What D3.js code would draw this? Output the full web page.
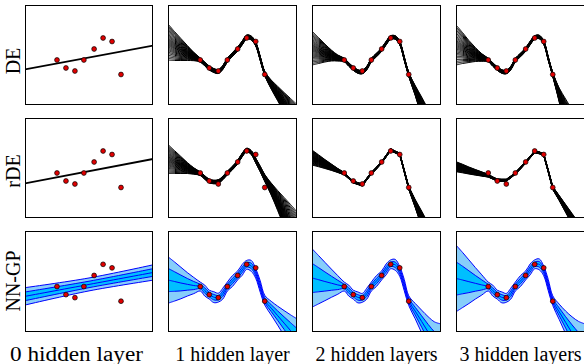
<!DOCTYPE html>
<html><head><meta charset="utf-8">
<script src="https://cdn.jsdelivr.net/npm/d3@7"></script>
<style>html,body{margin:0;padding:0;background:#fff;}svg{display:block}</style>
</head><body><svg id="c" width="584" height="364"></svg>
<script>
const ROW_LABELS = ["DE", "rDE", "NN-GP"];
const COL_LABELS = ["0 hidden layer", "1 hidden layer", "2 hidden layers", "3 hidden layers"];

// observed training points
const X_DATA = [0.25, 0.32, 0.39, 0.46, 0.54, 0.61, 0.68, 0.75];
const Y_DATA = [0.45, 0.37, 0.34, 0.45, 0.56, 0.67, 0.635, 0.305];

// x grids
const LIN = [0, 1];
const LIN3 = [0, 0.5, 1];
const GRID = [0, 0.05, 0.1, 0.15, 0.2, 0.25, 0.285, 0.32, 0.355, 0.39, 0.425, 0.46, 0.5, 0.54, 0.575, 0.61, 0.645, 0.68, 0.715, 0.75, 0.8, 0.85, 0.9, 0.95, 1];

// ensemble member offsets (in units of ensemble spread)
const MEMBERS = [-1, -0.91, -0.82, -0.73, -0.64, -0.56, -0.48, -0.41, -0.34, -0.27, -0.2, -0.14, -0.08, -0.02, 0.04, 0.1, 0.16, 0.22, 0.29, 0.36, 0.43, 0.51, 0.59, 0.67, 0.75, 0.83, 0.91, 1];

// DE
const DE0_MEAN = [0.357, 0.593];
const DE0_SPREAD = [0, 0];
const DE1_MEAN = [0.63, 0.59, 0.555, 0.52, 0.485, 0.45, 0.41, 0.37, 0.345, 0.335, 0.375, 0.45, 0.505, 0.56, 0.62, 0.68, 0.67, 0.61, 0.465, 0.315, 0.205, 0.115, 0.025, -0.065, -0.155];
const DE1_SPREAD = [0.18, 0.145, 0.11, 0.075, 0.042, 0.02, 0.02, 0.02, 0.02, 0.02, 0.02, 0.02, 0.02, 0.02, 0.02, 0.02, 0.02, 0.02, 0.02, 0.022, 0.045, 0.072, 0.1, 0.13, 0.16];
const DE2_MEAN = [0.57, 0.545, 0.52, 0.495, 0.47, 0.45, 0.405, 0.365, 0.335, 0.33, 0.37, 0.45, 0.5, 0.555, 0.62, 0.675, 0.675, 0.62, 0.465, 0.305, 0.145, -0.02, -0.19, -0.36, -0.53];
const DE2_SPREAD = [0.17, 0.13, 0.09, 0.055, 0.03, 0.018, 0.018, 0.018, 0.018, 0.018, 0.018, 0.018, 0.018, 0.018, 0.018, 0.018, 0.018, 0.018, 0.018, 0.02, 0.05, 0.1, 0.15, 0.2, 0.25];
const DE3_MEAN = [0.6, 0.57, 0.535, 0.505, 0.475, 0.45, 0.405, 0.365, 0.335, 0.33, 0.37, 0.45, 0.5, 0.555, 0.62, 0.675, 0.68, 0.625, 0.465, 0.305, 0.1, -0.1, -0.3, -0.5, -0.7];
const DE3_SPREAD = [0.2, 0.155, 0.11, 0.07, 0.038, 0.018, 0.018, 0.018, 0.018, 0.018, 0.018, 0.018, 0.018, 0.018, 0.018, 0.018, 0.018, 0.018, 0.018, 0.02, 0.07, 0.16, 0.25, 0.34, 0.43];

// rDE
const RDE0_MEAN = [0.347, 0.59];
const RDE0_SPREAD = [0, 0];
const RDE1_MEAN = [0.59, 0.56, 0.53, 0.5, 0.47, 0.443, 0.405, 0.37, 0.36, 0.365, 0.4, 0.45, 0.5, 0.56, 0.63, 0.68, 0.655, 0.575, 0.49, 0.4, 0.29, 0.175, 0.06, -0.055, -0.17];
const RDE1_SPREAD = [0.145, 0.115, 0.085, 0.055, 0.032, 0.018, 0.018, 0.018, 0.018, 0.018, 0.018, 0.018, 0.018, 0.018, 0.018, 0.018, 0.02, 0.024, 0.028, 0.035, 0.06, 0.1, 0.145, 0.19, 0.23];
const RDE2_MEAN = [0.605, 0.573, 0.54, 0.508, 0.475, 0.443, 0.402, 0.36, 0.345, 0.33, 0.39, 0.447, 0.5, 0.557, 0.62, 0.683, 0.66, 0.64, 0.47, 0.3, 0.145, -0.01, -0.17, -0.33, -0.49];
const RDE2_SPREAD = [0.075, 0.06, 0.045, 0.032, 0.02, 0.012, 0.01, 0.01, 0.01, 0.01, 0.01, 0.01, 0.01, 0.01, 0.01, 0.01, 0.01, 0.01, 0.012, 0.014, 0.04, 0.08, 0.12, 0.16, 0.2];
const RDE3_MEAN = [0.513, 0.495, 0.475, 0.457, 0.44, 0.423, 0.4, 0.38, 0.378, 0.378, 0.41, 0.447, 0.5, 0.557, 0.61, 0.662, 0.652, 0.633, 0.47, 0.3, 0.2, 0.095, -0.01, -0.115, -0.22];
const RDE3_SPREAD = [0.05, 0.043, 0.035, 0.028, 0.021, 0.014, 0.011, 0.01, 0.01, 0.01, 0.01, 0.01, 0.01, 0.01, 0.01, 0.01, 0.01, 0.01, 0.012, 0.015, 0.025, 0.04, 0.055, 0.07, 0.085];

// NN-GP posterior mean and standard deviation
const GP0_MEAN = [0.353, 0.471, 0.589];
const GP0_SD = [0.043, 0.032, 0.038];
const GP1_MEAN = [0.515, 0.5, 0.485, 0.472, 0.46, 0.45, 0.41, 0.37, 0.345, 0.34, 0.38, 0.45, 0.505, 0.56, 0.615, 0.665, 0.655, 0.58, 0.45, 0.315, 0.236, 0.162, 0.088, 0.014, -0.06];
const GP1_SD = [0.115, 0.097, 0.078, 0.058, 0.04, 0.022, 0.027, 0.022, 0.027, 0.022, 0.027, 0.022, 0.027, 0.022, 0.027, 0.022, 0.027, 0.024, 0.028, 0.024, 0.034, 0.047, 0.062, 0.078, 0.095];
const GP2_MEAN = [0.535, 0.518, 0.5, 0.483, 0.466, 0.45, 0.41, 0.37, 0.343, 0.338, 0.38, 0.45, 0.505, 0.56, 0.62, 0.67, 0.665, 0.6, 0.465, 0.31, 0.207, 0.104, 0.0, -0.1, -0.2];
const GP2_SD = [0.145, 0.12, 0.095, 0.07, 0.046, 0.022, 0.027, 0.022, 0.027, 0.022, 0.027, 0.022, 0.027, 0.022, 0.027, 0.022, 0.027, 0.024, 0.028, 0.024, 0.038, 0.056, 0.076, 0.1, 0.14];
const GP3_MEAN = [0.53, 0.515, 0.498, 0.482, 0.466, 0.45, 0.41, 0.37, 0.343, 0.338, 0.38, 0.45, 0.505, 0.56, 0.62, 0.67, 0.67, 0.605, 0.465, 0.31, 0.2, 0.095, -0.01, -0.115, -0.22];
const GP3_SD = [0.165, 0.137, 0.108, 0.078, 0.05, 0.022, 0.027, 0.022, 0.027, 0.022, 0.027, 0.022, 0.027, 0.022, 0.027, 0.022, 0.027, 0.024, 0.028, 0.024, 0.038, 0.056, 0.08, 0.11, 0.15];

const ENS = [
  [[LIN, DE0_MEAN, DE0_SPREAD], [GRID, DE1_MEAN, DE1_SPREAD], [GRID, DE2_MEAN, DE2_SPREAD], [GRID, DE3_MEAN, DE3_SPREAD]],
  [[LIN, RDE0_MEAN, RDE0_SPREAD], [GRID, RDE1_MEAN, RDE1_SPREAD], [GRID, RDE2_MEAN, RDE2_SPREAD], [GRID, RDE3_MEAN, RDE3_SPREAD]]
];
const GP = [[LIN3, GP0_MEAN, GP0_SD], [GRID, GP1_MEAN, GP1_SD], [GRID, GP2_MEAN, GP2_SD], [GRID, GP3_MEAN, GP3_SD]];

const colX = [25, 168, 312, 456], colW = [128, 129, 129, 129];
const rowY = [5, 118, 231], rowH = [100, 100, 101];
const rowLabelY = [61, 171, 281];
const FONT = "'Liberation Serif', 'Times New Roman', serif";

const svg = d3.select("#c");
const defs = svg.append("defs");

for (let r = 0; r < 3; r++) {
  for (let c = 0; c < 4; c++) {
    const x = d3.scaleLinear().domain([0, 1]).range([colX[c], colX[c] + colW[c]]);
    const y = d3.scaleLinear().domain([0, 1]).range([rowY[r] + rowH[r], rowY[r]]);
    const id = `clip${r}${c}`;
    defs.append("clipPath").attr("id", id).append("rect")
      .attr("x", colX[c]).attr("y", rowY[r]).attr("width", colW[c]).attr("height", rowH[r]);
    const g = svg.append("g").attr("clip-path", `url(#${id})`);
    const curve = (r === 1 && c >= 2) ? d3.curveLinear : d3.curveCatmullRom.alpha(0.5);

    if (r < 2) {
      const [gx, mean, spread] = ENS[r][c];
      const line = d3.line().curve(curve).x(d => x(d[0])).y(d => y(d[1]));
      const members = c === 0 ? [0] : MEMBERS;
      members.forEach(k => {
        const pts = gx.map((v, i) => [v, mean[i] + k * spread[i]]);
        g.append("path").attr("d", line(pts)).attr("fill", "none")
          .attr("stroke", "#000").attr("stroke-width", c === 0 ? 1.8 : 1);
      });
    } else {
      const [gx, mean, sd] = GP[c];
      const pts = gx.map((v, i) => ({ x: v, m: mean[i], s: sd[i] }));
      const area = (a, b) => d3.area().curve(d3.curveCatmullRom.alpha(0.5))
        .x(d => x(d.x)).y0(d => y(d.m + a * d.s)).y1(d => y(d.m + b * d.s));
      g.append("path").attr("d", area(-2, 2)(pts)).attr("fill", "#87CEFA");
      g.append("path").attr("d", area(-1, 1)(pts)).attr("fill", "#00BFFF");
      [-2, -1, 0, 1, 2].forEach(k => {
        const ln = d3.line().curve(d3.curveCatmullRom.alpha(0.5)).x(d => x(d.x)).y(d => y(d.m + k * d.s));
        g.append("path").attr("d", ln(pts)).attr("fill", "none").attr("stroke", "#0000FF").attr("stroke-width", 1);
      });
    }

    svg.append("g").selectAll("circle").data(X_DATA).join("circle")
      .attr("cx", (d, i) => x(d)).attr("cy", (d, i) => y(Y_DATA[i]))
      .attr("r", 2.4).attr("fill", "#e00000").attr("stroke", "#000").attr("stroke-width", 0.7);

    svg.append("rect").attr("x", colX[c] + 0.5).attr("y", rowY[r] + 0.5)
      .attr("width", colW[c] - 1).attr("height", rowH[r] - 1)
      .attr("fill", "none").attr("stroke", "#000").attr("stroke-width", 1);
  }
  svg.append("text").attr("transform", `translate(20,${rowLabelY[r]}) rotate(-90)`)
    .attr("text-anchor", "middle").attr("font-family", FONT).attr("font-size", 20)
    .text(ROW_LABELS[r]);
}
COL_LABELS.forEach((t, c) => {
  const tx = svg.append("text").attr("y", 361).attr("font-family", FONT).attr("font-size", 20).text(t);
  if (c === 0) {
    tx.attr("x", 10).attr("textLength", 133).attr("lengthAdjust", "spacingAndGlyphs");
  } else {
    tx.attr("x", colX[c] + colW[c] / 2).attr("text-anchor", "middle");
  }
});
</script>
</body></html>
